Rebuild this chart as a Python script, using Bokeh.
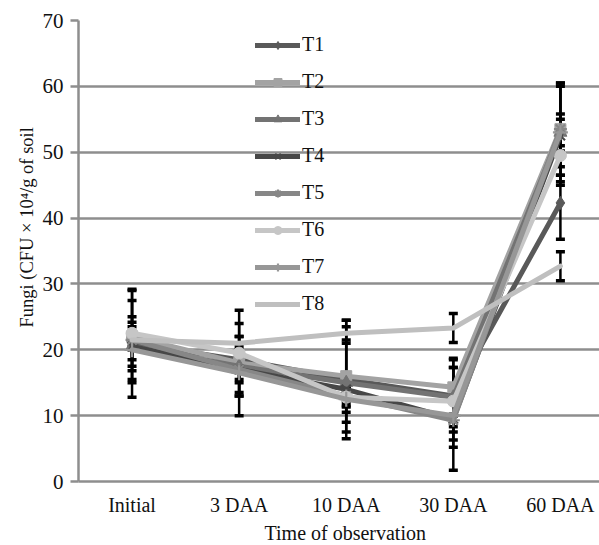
import math
from bokeh.plotting import figure
from bokeh.models import (ColumnDataSource, FixedTicker, Whisker, TeeHead, Title,
                          Range1d)
from bokeh.embed import file_html
from bokeh.resources import INLINE

categories = ["Initial", "3 DAA", "10 DAA", "30 DAA", "60 DAA"]
series_names = ["T1", "T2", "T3", "T4", "T5", "T6", "T7", "T8"]

T1 = [21.0, 18.5, 15.5, 13.0, 42.3]
T2 = [22.0, 18.0, 16.0, 14.3, 53.5]
T3 = [20.5, 17.5, 15.0, 12.8, 53.0]
T4 = [20.5, 17.0, 14.0, 9.5, 52.5]
T5 = [21.5, 17.0, 13.0, 9.3, 53.5]
T6 = [22.5, 19.5, 12.8, 12.2, 49.5]
T7 = [20.0, 16.5, 12.5, 10.0, 53.0]
T8 = [21.5, 21.0, 22.5, 23.3, 32.7]

E1 = [8.2, 5.5, 9.0, 5.5, 5.5]
E2 = [7.0, 8.0, 8.5, 4.4, 7.0]
E3 = [3.7, 4.5, 6.0, 4.5, 2.8]
E4 = [3.0, 1.5, 2.0, 7.8, 7.5]
E5 = [6.0, 2.0, 1.5, 3.0, 7.0]
E6 = [2.5, 1.0, 1.5, 2.0, 4.0]
E7 = [1.5, 3.0, 2.0, 4.8, 2.0]
E8 = [1.0, 1.0, 1.0, 2.2, 2.2]

y_ticks = [0, 10, 20, 30, 40, 50, 60, 70]

values = [T1, T2, T3, T4, T5, T6, T7, T8]
errors = [E1, E2, E3, E4, E5, E6, E7, E8]
colors = ["#595959", "#a3a3a3", "#737373", "#474747", "#878787", "#c6c6c6", "#979797", "#bfbfbf"]
markers = ["diamond", "square", "triangle", "x", "asterisk", "circle", "cross", None]
msizes = [13, 11, 13, 13, 13, 12, 15, 0]

FONT = "Liberation Serif"
GRID = "#8e8e8e"
TXT = "#111111"

p = figure(width=599, height=545, output_backend="svg", toolbar_location=None,
           x_range=Range1d(-0.5, 4.365), y_range=Range1d(0, 70),
           min_border_left=78, min_border_right=0, min_border_top=20, min_border_bottom=0)
p.outline_line_color = None
p.background_fill_color = "white"
p.border_fill_color = "white"

p.xgrid.visible = False
p.ygrid.ticker = FixedTicker(ticks=y_ticks)
p.ygrid.grid_line_color = GRID
p.ygrid.grid_line_width = 2.5

xs = list(range(len(categories)))

p.xaxis.ticker = FixedTicker(ticks=xs)
p.xaxis.major_label_overrides = {i: c for i, c in enumerate(categories)}
p.xaxis.major_tick_line_color = None
p.xaxis.minor_tick_line_color = None
p.xaxis.axis_line_color = GRID
p.xaxis.axis_line_width = 2.5
p.xaxis.major_label_text_font = FONT
p.xaxis.major_label_text_font_size = "20px"
p.xaxis.major_label_text_color = TXT
p.xaxis.major_label_standoff = 6

p.yaxis.ticker = FixedTicker(ticks=y_ticks)
p.yaxis.major_tick_out = 8
p.yaxis.major_tick_in = 0
p.yaxis.major_tick_line_color = GRID
p.yaxis.major_tick_line_width = 2.5
p.yaxis.minor_tick_line_color = None
p.yaxis.axis_line_color = GRID
p.yaxis.axis_line_width = 2.5
p.yaxis.major_label_text_font = FONT
p.yaxis.major_label_text_font_size = "21px"
p.yaxis.major_label_text_color = TXT
p.yaxis.major_label_standoff = 7

# error bars (below lines)
for vals, errs in zip(values, errors):
    src = ColumnDataSource(dict(x=xs, lo=[v - e for v, e in zip(vals, errs)],
                                hi=[v + e for v, e in zip(vals, errs)]))
    w = Whisker(source=src, base="x", lower="lo", upper="hi", dimension="height",
                line_color="black", line_width=2.5, level="underlay",
                upper_head=TeeHead(size=9, line_width=3.5, line_color="black"),
                lower_head=TeeHead(size=9, line_width=3.5, line_color="black"))
    p.add_layout(w)

for name, vals, col, mk, ms in zip(series_names, values, colors, markers, msizes):
    src = ColumnDataSource(dict(x=xs, y=vals))
    p.line("x", "y", source=src, line_color=col, line_width=5, line_cap="round",
           line_join="round", legend_label=name)
    if mk is not None:
        lw = 2.2 if mk in ("x", "asterisk", "cross") else 1
        p.scatter("x", "y", source=src, marker=mk, size=ms, fill_color=col,
                  line_color=col, line_width=lw, legend_label=name)

lg = p.legend[0]
lg.location = (177, 166)
lg.padding = 0
lg.margin = 0
lg.spacing = 14
lg.glyph_width = 45
lg.glyph_height = 20
lg.label_height = 20
lg.label_standoff = 2
lg.border_line_color = None
lg.background_fill_alpha = 0
lg.label_text_font = FONT
lg.label_text_font_size = "20px"
lg.label_text_color = TXT

yt = Title(text="Fungi (CFU \u00d7 10\u2074/g of soil", align="left", offset=154,
           standoff=6, text_font=FONT, text_font_size="18.5px",
           text_font_style="normal", text_color=TXT)
p.add_layout(yt, "left")
xt = Title(text="Time of observation", align="left", offset=186, standoff=3,
           text_font=FONT, text_font_size="20px", text_font_style="normal",
           text_color=TXT)
p.add_layout(xt, "below")

open("out.html", "w").write(file_html(p, INLINE))
